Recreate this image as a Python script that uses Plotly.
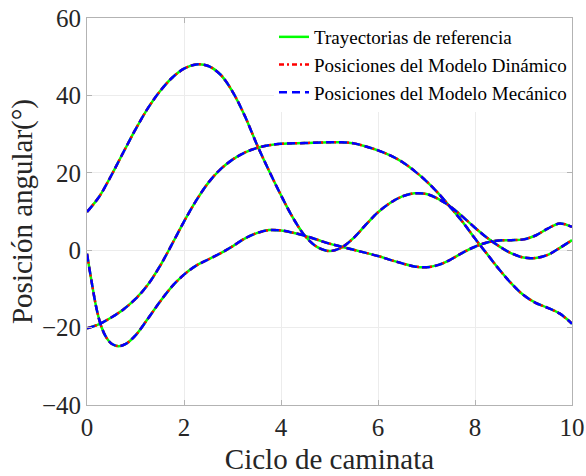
import plotly.graph_objects as go

# Data
x_a = [0, 0.25, 0.5, 0.75, 1.0, 1.25, 1.5, 1.75, 2.0, 2.25, 2.5, 2.75, 3.0, 3.25, 3.5, 3.75,
       4.0, 4.25, 4.5, 4.75, 5.0, 5.25, 5.5, 5.75, 6.0, 6.25, 6.5, 6.75, 7.0, 7.25, 7.5, 7.75,
       8.0, 8.25, 8.5, 8.75, 9.0, 9.25, 9.5, 9.75, 10.0]
y_a = [9.9, 13.8, 19.3, 25.3, 31.2, 36.6, 41.0, 44.5, 46.9, 48.0, 47.6, 45.4, 41.0, 34.8, 27.4, 20.6,
       14.2, 8.3, 3.6, 0.8, -0.2, 0.7, 3.2, 6.6, 9.8, 12.2, 13.9, 14.7, 14.5, 13.2, 11.2, 8.6,
       5.8, 3.2, 1.0, -0.8, -1.9, -2.0, -1.2, 0.6, 2.6]

x_b = [0, 0.25, 0.5, 0.75, 1.0, 1.25, 1.5, 1.75, 2.0, 2.25, 2.5, 2.75, 3.0, 3.25, 3.5, 3.75,
       4.0, 4.5, 5.0, 5.25, 5.5, 5.75, 6.0, 6.25, 6.5, 6.75, 7.0, 7.25, 7.5, 7.75,
       8.0, 8.25, 8.5, 8.75, 9.0, 9.25, 9.5, 9.75, 10.0]
y_b = [-20.2, -19.1, -17.4, -15.3, -12.6, -9.0, -4.2, 1.5, 7.4, 12.8, 17.4, 20.9, 23.4, 25.2, 26.4, 27.1,
       27.5, 27.7, 27.9, 27.9, 27.6, 26.8, 25.8, 24.5, 22.8, 20.5, 17.8, 14.6, 11.0, 7.2,
       3.0, -1.0, -5.0, -8.6, -11.6, -13.6, -14.9, -16.4, -19.0]

x_c = [0, 0.1, 0.2, 0.3, 0.4, 0.5, 0.65, 0.8, 1.0, 1.25, 1.5, 1.75, 2.0, 2.25, 2.5, 2.75, 3.0,
       3.25, 3.5, 3.75, 4.0, 4.25, 4.5, 4.75, 5.0, 5.25, 5.5, 5.75, 6.0, 6.25, 6.5, 6.75, 7.0,
       7.25, 7.5, 7.75, 8.0, 8.25, 8.5, 8.75, 9.0, 9.25, 9.5, 9.75, 10.0]
y_c = [-0.9, -8.5, -15.3, -19.9, -22.6, -24.1, -24.8, -24.2, -22.0, -17.8, -13.4, -9.4, -6.3, -4.0, -2.4, -0.8, 1.0,
       3.0, 4.4, 5.2, 5.1, 4.5, 3.7, 2.7, 1.7, 0.9, 0.1, -0.7, -1.5, -2.5, -3.4, -4.2, -4.4,
       -3.8, -2.4, -0.6, 0.9, 2.0, 2.5, 2.6, 2.8, 3.8, 5.6, 6.9, 6.0]

series_names = ["Trayectorias de referencia",
                "Posiciones del Modelo Dinámico",
                "Posiciones del Modelo Mecánico"]
series_colors = ["#00ff00", "#ff0000", "#0000ff"]
series_dash = ["solid", "5px,3px,2px,3px", "8px,5px"]

x_ticks = [0, 2, 4, 6, 8, 10]
y_ticks = [-40, -20, 0, 20, 40, 60]

curves = [(x_a, y_a), (x_b, y_b), (x_c, y_c)]

fig = go.Figure()
for name, color, dash in zip(series_names, series_colors, series_dash):
    for i, (xs, ys) in enumerate(curves):
        fig.add_trace(go.Scatter(
            x=xs, y=ys, mode="lines", name=name,
            line=dict(color=color, width=2.5, dash=dash, shape="spline", smoothing=1.0),
            showlegend=(i == 0),
        ))

serif = "Liberation Serif"
tick_font = dict(family=serif, size=25, color="#262626")
title_font = dict(family=serif, size=29, color="#262626")
axis_common = dict(
    showline=True, linecolor="#b3b3b3", linewidth=1, mirror="ticks",
    ticks="inside", ticklen=5, tickcolor="#b3b3b3",
    showgrid=True, gridcolor="#ececec", gridwidth=1, zeroline=False,
    automargin=False, tickfont=tick_font,
)
fig.update_layout(
    width=586, height=476,
    font=dict(family=serif, size=25, color="#262626"),
    margin=dict(l=87, r=14, t=18, b=71),
    paper_bgcolor="white", plot_bgcolor="white",
    xaxis=dict(range=[0, 10], tickvals=x_ticks,
               title=dict(text="Ciclo de caminata", font=title_font, standoff=8),
               **axis_common),
    yaxis=dict(range=[-40, 60], tickvals=y_ticks,
               title=dict(text="Posición angular(°)", font=title_font, standoff=0),
               **axis_common),
    legend=dict(x=1, y=1.0, xanchor="right", yanchor="top", bgcolor="white",
                borderwidth=0, font=dict(family=serif, size=19, color="#000000"),
                itemwidth=30, tracegroupgap=0),
    showlegend=True,
)
fig.write_html("out.html")
